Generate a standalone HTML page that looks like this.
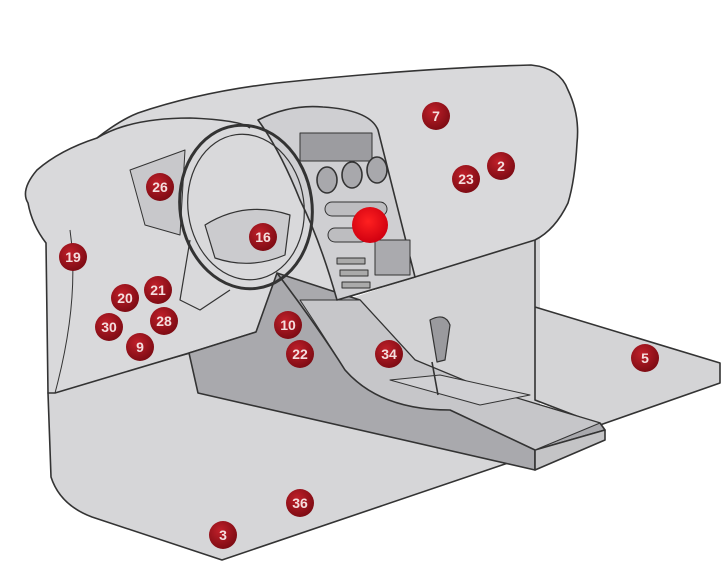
<!DOCTYPE html>
<html><head><meta charset="utf-8"><style>
html,body{margin:0;padding:0;background:#fff;}
svg{display:block}
text{font-family:"Liberation Sans",sans-serif;font-weight:bold;fill:#f4dede;text-anchor:middle;dominant-baseline:central}
</style></head><body>
<svg width="722" height="567" viewBox="0 0 722 567">
<defs>
<radialGradient id="b" cx="40%" cy="35%" r="70%"><stop offset="0" stop-color="#c0202a"/><stop offset="1" stop-color="#7a0a12"/></radialGradient>
<radialGradient id="r" cx="45%" cy="40%" r="60%"><stop offset="0" stop-color="#ff2020"/><stop offset="1" stop-color="#d00010"/></radialGradient>
</defs>
<path d="M256,330 L540,235 L540,405 L605,428 L535,452 L198,393 Z" fill="#d3d3d5"/>
<g stroke="#333" stroke-width="1.6" stroke-linejoin="round">
<!-- right floor -->
<path d="M535,240 L535,307 L720,363 L720,383 L600,425 L535,400 Z" fill="#d4d4d6"/>
<!-- lower left floor -->
<path d="M48,393 L51,477 Q60,505 92,517 L222,560 L508,463 L520,430 L190,353 Z" fill="#d6d6d8"/>
<!-- dashboard main -->
<path d="M28,203 Q20,190 37,170 Q60,150 97,138 Q120,120 138,113 Q200,92 277,83 Q420,68 531,65 Q560,68 568,90 Q580,115 577,143 Q575,180 568,203 Q555,230 535,240 L415,277 L337,300 L256,332 L189,353 L55,393 L48,393 L46,243 Q32,225 28,203 Z" fill="#d9d9db"/>
<!-- console -->
<path d="M189,353 L198,393 L535,470 L535,450 L605,430 L600,423 L540,405 L480,387 L415,360 L360,300 L277,273 L256,332 Z" fill="#a9a9ad"/>
<path d="M535,450 L535,470 L605,440 L605,430 Z" fill="#c4c4c6"/>
<path d="M360,300 L415,360 L480,387 L540,405 L600,423 L535,450 L450,410 Q380,410 345,370 Q320,330 300,300 Z" fill="#c6c6c9" stroke-width="1"/>
<path d="M390,380 L440,375 L530,395 L480,405 Z" fill="#d0d0d3" stroke-width="1"/>
<!-- center stack -->
<path d="M258,120 Q290,104 323,107 Q370,110 378,130 L415,277 L337,300 Q320,240 300,200 Q280,150 258,120 Z" fill="#cfcfd2"/>
<path d="M277,273 Q320,330 345,370 Q380,410 450,410 L535,450" fill="none"/>
<rect x="300" y="133" width="72" height="28" fill="#9c9ca0" stroke-width="1"/>
<ellipse cx="327" cy="180" rx="10" ry="13" fill="#a8a8ac"/><ellipse cx="352" cy="175" rx="10" ry="13" fill="#a8a8ac"/><ellipse cx="377" cy="170" rx="10" ry="13" fill="#a8a8ac"/>
<rect x="325" y="202" width="62" height="14" rx="7" fill="#bdbdc0" stroke-width="1"/>
<rect x="328" y="228" width="40" height="14" rx="7" fill="#bdbdc0" stroke-width="1"/>
<rect x="375" y="240" width="35" height="35" fill="#aaaaae" stroke-width="1"/>
<rect x="337" y="258" width="28" height="6" fill="#aaa" stroke-width="1"/><rect x="340" y="270" width="28" height="6" fill="#aaa" stroke-width="1"/><rect x="342" y="282" width="28" height="6" fill="#aaa" stroke-width="1"/>
<!-- shifter -->
<path d="M430,320 Q445,312 450,325 L445,360 L437,362 Z" fill="#9a9a9e" stroke-width="1.2"/>
<path d="M432,362 L438,395" fill="none"/>
<!-- cluster/hood -->
<path d="M97,138 Q130,118 190,118 Q240,120 250,128" fill="none"/>
<path d="M130,170 L145,225 L180,235 L185,150 Z" fill="#c8c8cb" stroke-width="1"/>
<!-- steering -->
<ellipse cx="246" cy="207" rx="66" ry="82" transform="rotate(-8 246 207)" fill="none" stroke-width="3"/>
<ellipse cx="246" cy="207" rx="58" ry="73" transform="rotate(-8 246 207)" fill="none" stroke-width="1.2"/>
<path d="M205,225 Q245,200 290,215 L285,255 Q250,270 215,258 Z" fill="#cbcbce" stroke-width="1.2"/>
<path d="M190,240 L180,300 L200,310 L230,290" fill="none" stroke-width="1.2"/>
<path d="M55,393 Q80,300 70,230" fill="none" stroke-width="1"/>
</g>
<circle cx="370" cy="225" r="18" fill="url(#r)"/>
<g font-size="14">
<circle cx="436" cy="116" r="14" fill="url(#b)"/><text x="436" y="116">7</text>
<circle cx="501" cy="166" r="14" fill="url(#b)"/><text x="501" y="166">2</text>
<circle cx="466" cy="179" r="14" fill="url(#b)"/><text x="466" y="179">23</text>
<circle cx="160" cy="187" r="14" fill="url(#b)"/><text x="160" y="187">26</text>
<circle cx="263" cy="237" r="14" fill="url(#b)"/><text x="263" y="237">16</text>
<circle cx="73" cy="257" r="14" fill="url(#b)"/><text x="73" y="257">19</text>
<circle cx="158" cy="290" r="14" fill="url(#b)"/><text x="158" y="290">21</text>
<circle cx="125" cy="298" r="14" fill="url(#b)"/><text x="125" y="298">20</text>
<circle cx="164" cy="321" r="14" fill="url(#b)"/><text x="164" y="321">28</text>
<circle cx="109" cy="327" r="14" fill="url(#b)"/><text x="109" y="327">30</text>
<circle cx="140" cy="347" r="14" fill="url(#b)"/><text x="140" y="347">9</text>
<circle cx="288" cy="325" r="14" fill="url(#b)"/><text x="288" y="325">10</text>
<circle cx="300" cy="354" r="14" fill="url(#b)"/><text x="300" y="354">22</text>
<circle cx="389" cy="354" r="14" fill="url(#b)"/><text x="389" y="354">34</text>
<circle cx="645" cy="358" r="14" fill="url(#b)"/><text x="645" y="358">5</text>
<circle cx="300" cy="503" r="14" fill="url(#b)"/><text x="300" y="503">36</text>
<circle cx="223" cy="535" r="14" fill="url(#b)"/><text x="223" y="535">3</text>
</g>
</svg>
</body></html>
